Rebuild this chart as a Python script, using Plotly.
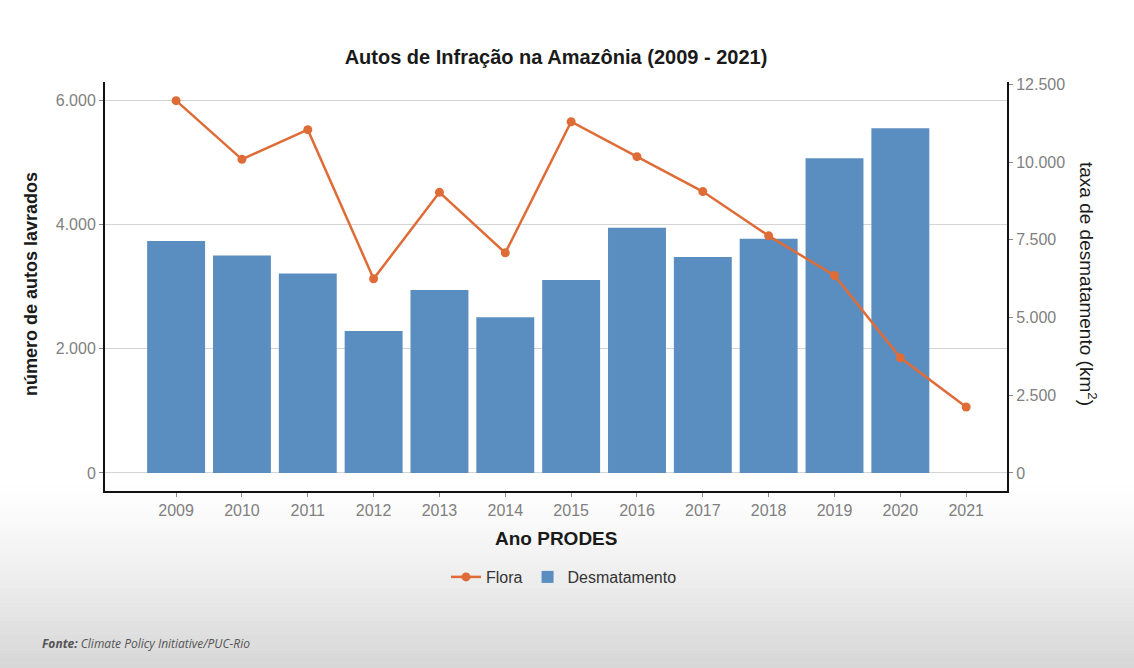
import plotly.graph_objects as go

anos = list(range(2009, 2022))
anos_desm = list(range(2009, 2021))
flora = [5990, 5046, 5523, 3124, 4515, 3541, 5651, 5089, 4527, 3815, 3177, 1854, 1061]
desmatamento = [7464, 7000, 6418, 4571, 5891, 5012, 6207, 7893, 6947, 7536, 10129, 11088]
left_ticks = [0, 2000, 4000, 6000]
right_ticks = [0, 2500, 5000, 7500, 10000, 12500]
grid_right = [2 * v for v in left_ticks]

W, H = 1134, 668
L, R, T, B = 105, 1007, 82, 491
pw, ph = R - L, B - T

def px(x):
    return (x - L) / pw

def py(y):
    return (B - y) / ph

fig = go.Figure()
fig.add_trace(go.Scatter(
    x=anos, y=flora, name="Flora", mode="lines+markers", yaxis="y2",
    line=dict(color="#df6c37", width=2.5), marker=dict(size=9, color="#df6c37"),
))
fig.add_trace(go.Bar(
    x=anos_desm, y=desmatamento, name="Desmatamento", yaxis="y",
    marker=dict(color="#5b8ec0", line=dict(width=0)), width=0.88,
))

# smooth background gradient (outside plot area)
shapes = []
g0, g1 = 480, 668
n = 40
for i in range(n):
    y0 = g0 + (g1 - g0) * i / n
    y1 = g0 + (g1 - g0) * (i + 1) / n
    t = (i + 0.5) / n
    v = int(round(255 - (255 - 214) * t ** 1.3))
    c = "rgb(%d,%d,%d)" % (v, v, v)
    shapes.append(dict(type="rect", xref="paper", yref="paper",
                       x0=px(0), x1=px(W), y0=py(y1 + 0.5), y1=py(y0),
                       fillcolor=c, line=dict(width=0), layer="below"))

FONT = "Liberation Sans, Arial, sans-serif"
tickfont = dict(family=FONT, size=16, color="#7f7f7f")

fig.update_layout(
    width=W, height=H,
    margin=dict(l=L, r=W - R, t=T, b=H - B),
    paper_bgcolor="white", plot_bgcolor="white",
    separators=",.",
    barmode="overlay",
    shapes=shapes,
    title=dict(text="<b>Autos de Infração na Amazônia (2009 - 2021)</b>",
               x=px(556), xref="paper", xanchor="center",
               y=1 - 57 / H, yanchor="middle",
               font=dict(family=FONT, size=20, color="#1a1a1a")),
    xaxis=dict(range=[2007.92, 2021.62], tickvals=anos, ticktext=[str(a) for a in anos],
               showgrid=False, zeroline=False, showline=True, linecolor="#111111", linewidth=2,
               ticks="outside", ticklen=4, tickcolor="#888888", tickfont=tickfont),
    yaxis=dict(side="right", range=[-580, 12580], tickvals=right_ticks, tickformat=",d",
               showgrid=False, zeroline=False, showline=True, linecolor="#111111", linewidth=2,
               ticks="outside", ticklen=4, tickcolor="#888888", tickfont=tickfont,
               minor=dict(tickmode="array", tickvals=grid_right, showgrid=True,
                          gridcolor="#d4d4d4", gridwidth=1, ticks="")),
    yaxis2=dict(side="left", overlaying="y", range=[-290, 6290], tickvals=left_ticks,
                tickformat=",d", showgrid=False, zeroline=False, showline=True,
                linecolor="#111111", linewidth=2, ticks="outside", ticklen=4,
                tickcolor="#888888", tickfont=tickfont),
    legend=dict(orientation="h", x=px(564), xanchor="center", y=py(577), yanchor="middle",
                bgcolor="rgba(0,0,0,0)",
                font=dict(family=FONT, size=16, color="#333333"),
                traceorder="normal"),
    showlegend=True,
)

annos = [
    dict(text="<b>Ano PRODES</b>", x=px(556), y=py(538), xref="paper", yref="paper",
         showarrow=False, xanchor="center", yanchor="middle",
         font=dict(family=FONT, size=19, color="#1a1a1a")),
    dict(text="<b>número de autos lavrados</b>", x=px(31), y=py(284), xref="paper", yref="paper",
         showarrow=False, textangle=-90, xanchor="center", yanchor="middle",
         font=dict(family=FONT, size=18, color="#1a1a1a")),
    dict(text="taxa de desmatamento (km<sup>2</sup>)", x=px(1088), y=py(284), xref="paper", yref="paper",
         showarrow=False, textangle=90, xanchor="center", yanchor="middle",
         font=dict(family=FONT, size=19, color="#1a1a1a")),
    dict(text="<b><i>Fonte:</i></b><i> Climate Policy Initiative/PUC-Rio</i>", x=px(40), y=py(643),
         xref="paper", yref="paper", showarrow=False, xanchor="left", yanchor="middle",
         font=dict(family="Open Sans, Liberation Sans, sans-serif", size=12, color="#555555")),
]
fig.update_layout(annotations=annos)

fig.write_html("out.html")
